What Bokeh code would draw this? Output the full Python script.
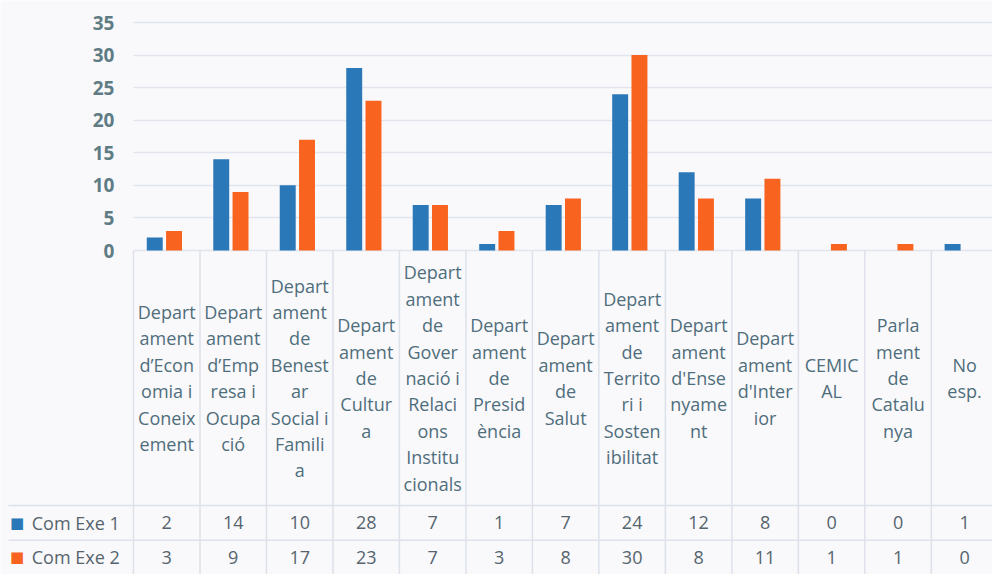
from bokeh.plotting import figure
from bokeh.models import Range1d, FixedTicker, Grid
from bokeh.embed import file_html
from bokeh.resources import INLINE
from bokeh.core.properties import value

# ---------------- data ----------------
categories = [
    "Depart\nament\nd’Econ\nomia i\nConeix\nement",
    "Depart\nament\nd’Emp\nresa i\nOcupa\nció",
    "Depart\nament\nde\nBenest\nar\nSocial i\nFamili\na",
    "Depart\nament\nde\nCultur\na",
    "Depart\nament\nde\nGover\nnació i\nRelaci\nons\nInstitu\ncionals",
    "Depart\nament\nde\nPresid\nència",
    "Depart\nament\nde\nSalut",
    "Depart\nament\nde\nTerrito\nri i\nSosten\nibilitat",
    "Depart\nament\nd'Ense\nnyame\nnt",
    "Depart\nament\nd'Inter\nior",
    "CEMIC\nAL",
    "Parla\nment\nde\nCatalu\nnya",
    "No\nesp.",
]
com_exe_1 = [2, 14, 10, 28, 7, 1, 7, 24, 12, 8, 0, 0, 1]
com_exe_2 = [3, 9, 17, 23, 7, 3, 8, 30, 8, 11, 1, 1, 0]
series_names = ["Com Exe 1", "Com Exe 2"]
y_ticks = [0, 5, 10, 15, 20, 25, 30, 35]

# ---------------- style ----------------
BLUE = "#2b78b8"
ORANGE = "#f8641f"
BG = "#f9f9fb"
GRID = "#e2e5ed"
TABLE_LINE = "#dde1ea"
FONT = "Open Sans"

n = len(categories)
X_MIN, X_MAX = -2.0, 12.92
Y_MIN, Y_MAX = -49.74, 38.38
LABEL_BOTTOM = -39.15   # bottom of the category-label cell
ROW_LINE_2 = -44.5
ROW_Y = [-41.8, -47.1]
TABLE_LEFT = -1.88

p = figure(width=992, height=574,
           x_range=Range1d(X_MIN, X_MAX), y_range=Range1d(Y_MIN, Y_MAX),
           output_backend="svg", toolbar_location=None,
           min_border_left=0, min_border_right=0,
           min_border_top=0, min_border_bottom=0)
p.background_fill_color = BG
p.border_fill_color = BG
p.outline_line_color = None
p.xaxis.visible = False
p.xgrid.visible = False

ticker = FixedTicker(ticks=y_ticks)
yax = p.yaxis[0]
yax.ticker = ticker
yax.fixed_location = 0
yax.axis_line_color = None
yax.major_tick_line_color = None
yax.minor_tick_line_color = None
yax.major_label_standoff = 13
yax.major_label_text_font = FONT
yax.major_label_text_font_size = "19px"
yax.major_label_text_font_style = "bold"
yax.major_label_text_color = "#5f7c84"

p.ygrid.ticker = ticker
p.ygrid.grid_line_color = GRID
p.ygrid.grid_line_width = 1.5
if "cross_bounds" in Grid.properties():
    p.ygrid.cross_bounds = (0, X_MAX)

centers = [i + 0.5 for i in range(n)]

# table vertical lines
bounds = list(range(n))
p.segment(x0=bounds, y0=[0] * n, x1=bounds, y1=[Y_MIN] * n,
          line_color=TABLE_LINE, line_width=1.5)

# table horizontal lines (extend under the row headers)
for ly in [LABEL_BOTTOM, ROW_LINE_2]:
    p.segment(x0=[TABLE_LEFT], y0=[ly], x1=[X_MAX], y1=[ly],
              line_color=TABLE_LINE, line_width=1.5)

# bars
p.vbar(x=[c - 0.18 for c in centers], top=com_exe_1, bottom=0, width=0.24,
       fill_color=BLUE, line_color=None)
p.vbar(x=[c + 0.11 for c in centers], top=com_exe_2, bottom=0, width=0.24,
       fill_color=ORANGE, line_color=None)

# category labels
p.text(x=centers, y=[LABEL_BOTTOM / 2] * n, text=categories,
       text_align="center", text_baseline="middle",
       text_font=value(FONT), text_font_size="18px", text_line_height=1.1,
       text_color="#4f6e7c")

# table values
for vals, ry in zip([com_exe_1, com_exe_2], ROW_Y):
    p.text(x=centers, y=[ry] * n, text=[str(v) for v in vals],
           text_align="center", text_baseline="middle",
           text_font=value(FONT), text_font_size="18px", text_color="#56646e")

# row headers
colors = [BLUE, ORANGE]
p.text(x=[-1.75] * 2, y=ROW_Y, text=["■"] * 2, text_color=colors,
       text_align="center", text_baseline="middle",
       text_font=value("DejaVu Sans"), text_font_size="15px")
p.text(x=[-1.53] * 2, y=ROW_Y, text=series_names, text_color="#56646e",
       text_align="left", text_baseline="middle",
       text_font=value(FONT), text_font_size="18px")

open("out.html", "w").write(file_html(p, INLINE))
